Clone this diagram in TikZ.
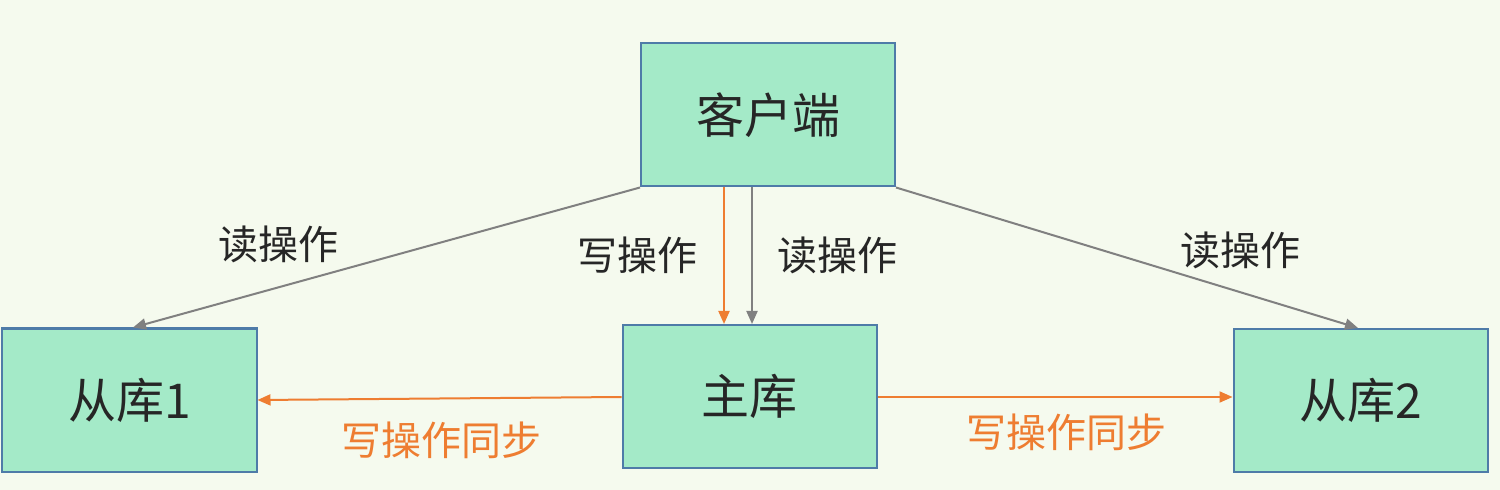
\documentclass[tikz,border=0pt]{standalone}
\usepackage{fontspec}
\newfontfamily\cjk{Noto Sans CJK SC}
\usetikzlibrary{arrows.meta}
\definecolor{bgc}{HTML}{F5FAEE}
\definecolor{boxfill}{HTML}{A4EAC8}
\definecolor{boxdraw}{HTML}{4E7BA8}
\definecolor{orangec}{HTML}{EE7D31}
\definecolor{grayc}{HTML}{808080}
\definecolor{txtc}{HTML}{262626}
\tikzset{
  dbbox/.style={draw=boxdraw, fill=boxfill, line width=2bp, minimum width=254bp, minimum height=143bp, inner sep=0pt,
    font=\cjk\fontsize{48bp}{50bp}\selectfont, text=txtc},
  rdarr/.style={draw=grayc, line width=2bp, -{Triangle[length=13bp,width=11bp]}},
  wrarr/.style={draw=orangec, line width=2bp, -{Triangle[length=13bp,width=11bp]}},
  rdlbl/.style={inner sep=0pt, font=\cjk\fontsize{40bp}{42bp}\selectfont, text=txtc},
  wrlbl/.style={inner sep=0pt, font=\cjk\fontsize{40bp}{42bp}\selectfont, text=orangec},
}
\begin{document}
\begin{tikzpicture}[x=1bp,y=-1bp]
\fill[bgc] (0,0) rectangle (1500,490);
\useasboundingbox (0,0) rectangle (1500,490);
\node[dbbox] (client) at (768,115) {客户端};
\node[dbbox] (main) at (749.5,396.5) {主库};
\node[dbbox] (s1) at (129.5,400) {从库1};
\node[dbbox] (s2) at (1360.5,400.5) {从库2};
\draw[wrarr] (client.south -| 724,0) -- (main.north -| 724,0);
\draw[rdarr] (client.south -| 752,0) -- (main.north -| 752,0);
\draw[rdarr] (client.south west) -- (s1.north -| 133,0);
\draw[rdarr] (client.south east) -- (s2.north -| 1358,0);
\draw[wrarr] (main.west |- 0,397) -- (s1.east |- 0,400);
\draw[wrarr] (main.east |- 0,397) -- (s2.west |- 0,397);
\node[rdlbl] (l1) at (278,244) {读操作};
\node[rdlbl] (l2) at (637,255) {写操作};
\node[rdlbl] (l3) at (837,255) {读操作};
\node[rdlbl] (l4) at (1240,250) {读操作};
\node[wrlbl] (l5) at (441,440) {写操作同步};
\node[wrlbl] (l6) at (1066,432) {写操作同步};
\end{tikzpicture}
\end{document}
